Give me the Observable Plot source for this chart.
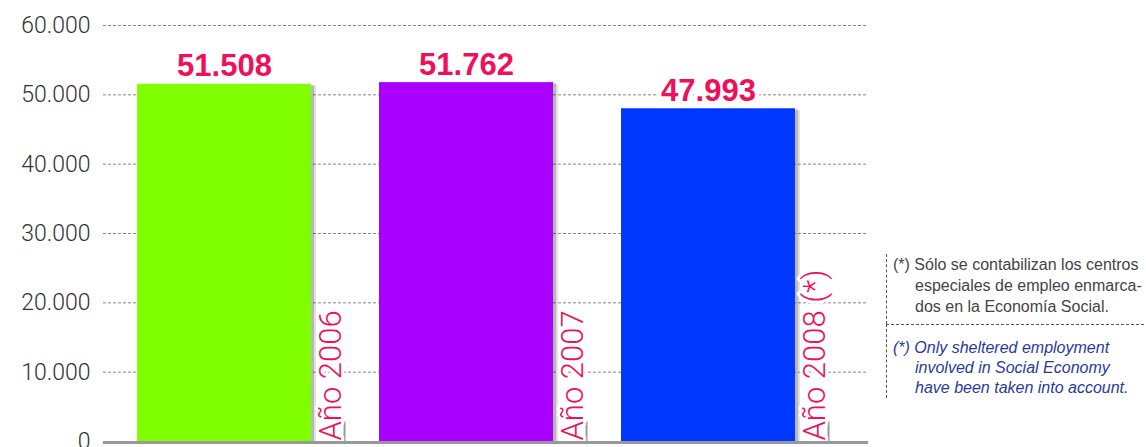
<!DOCTYPE html>
<html><head><meta charset="utf-8">
<script src="https://cdn.jsdelivr.net/npm/d3@7"></script>
<script src="https://cdn.jsdelivr.net/npm/@observablehq/plot@0.6"></script>
<style>
body{margin:0;background:#fff;}
#wrap{position:relative;width:1146px;height:447px;overflow:hidden;}
#note{position:absolute;left:886px;top:254px;width:258px;}
#es{border-left:1px dashed #555;padding:0 0 7px 6px;height:63px;font-family:"Liberation Sans",Arial,sans-serif;font-size:16px;line-height:21px;color:#444;white-space:nowrap;}
#en{border-left:1px dashed #555;border-top:1px dashed #555;padding:13px 0 0 6px;height:60px;font-family:"Liberation Sans",Arial,sans-serif;font-style:italic;font-size:16px;line-height:20px;color:#2a3a9c;white-space:nowrap;}
.i{padding-left:22px;}
</style></head><body>
<div id="wrap"><div id="chart"></div>
<div id="note">
<div id="es"><div>(*) Sólo se contabilizan los centros</div><div class="i">especiales de empleo enmarca-</div><div class="i">dos en la Economía Social.</div></div>
<div id="en"><div>(*) Only sheltered employment</div><div class="i">involved in Social Economy</div><div class="i">have been taken into account.</div></div>
</div></div>
<script>
const categories = ["Año 2006", "Año 2007", "Año 2008 (*)"];
const values = [51508, 51762, 47993];
const colors = ["#80ff00", "#aa00ff", "#0038ff"];
const yTicks = [0, 10000, 20000, 30000, 40000, 50000, 60000];

const data = categories.map((c, i) => ({cat: c, value: values[i], color: colors[i]}));
const loc = d3.formatLocale({decimal: ",", thousands: ".", grouping: [3], currency: ["", ""]});
const fmt = loc.format(",d");

const xRange = [103, 829];
const padIn = 0.281, padOut = 0.14;
const step = (xRange[1] - xRange[0]) / (categories.length - padIn + 2 * padOut);
const bw = step * (1 - padIn);
const red = "#f0105a";

const chart = Plot.plot({
  width: 1146,
  height: 447,
  marginLeft: 103,
  marginRight: 278,
  marginTop: 25,
  marginBottom: 6,
  style: {fontFamily: "Roboto, sans-serif", color: "#333", background: "#fff"},
  x: {domain: categories, range: xRange, paddingInner: padIn, paddingOuter: padOut, axis: null},
  y: {domain: [0, 60000], ticks: yTicks, label: null},
  marks: [
    Plot.gridY(yTicks, {stroke: "#888", strokeOpacity: 1, strokeDasharray: "3,2"}),
    Plot.axisY(yTicks, {tickSize: 0, tickPadding: 13, fontSize: 23, fontWeight: 300, label: null, tickFormat: d => d === 0 ? "0" : fmt(d), fill: "#333"}),
    Plot.barY(data, {x: "cat", y: "value", fill: "#000", fillOpacity: 0.18, dx: 3, dy: 1}),
    Plot.barY(data, {x: "cat", y: "value", fill: "#000", fillOpacity: 0.12, dx: 5, dy: 2}),
    Plot.barY(data, {x: "cat", y: "value", fill: "color"}),
    Plot.text(data, {x: "cat", y: "value", text: d => fmt(d.value), lineAnchor: "bottom", dy: -8, fontSize: 31, fontWeight: "bold", fill: red, stroke: "white", strokeWidth: 8, fontFamily: "Liberation Sans, Arial, sans-serif"}),
    Plot.ruleX(categories, {x: d => d, y1: 0, y2: 2800, dx: bw / 2 + 33, stroke: "#999", strokeWidth: 2}),
    Plot.text(categories, {x: d => d, y: 0, text: d => d, rotate: -90, textAnchor: "start", lineAnchor: "middle", dx: bw / 2 + 20, dy: -1, fontSize: 31, fontWeight: 300, fill: red, stroke: "white", strokeWidth: 6}),
    Plot.ruleY([0], {stroke: "#999", strokeWidth: 3, dy: 1})
  ]
});
document.getElementById("chart").appendChild(chart);
</script>
</body></html>
